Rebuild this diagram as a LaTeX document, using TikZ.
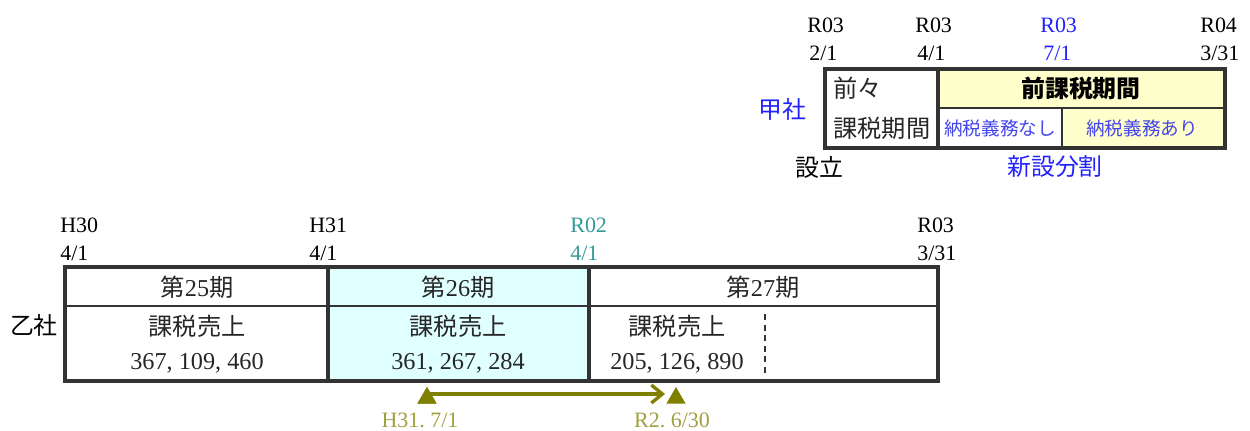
\documentclass[tikz,border=0pt]{standalone}
\usepackage{fontspec}
\setmainfont{Liberation Serif}
\newfontfamily\jp{Noto Sans CJK JP}
\newcommand{\J}[1]{{\jp #1}}
\usetikzlibrary{shapes.geometric,arrows.meta,calc}
\definecolor{frame}{HTML}{333333}
\definecolor{ylw}{HTML}{FFFFCC}
\definecolor{cyn}{HTML}{E0FFFF}
\definecolor{blu}{HTML}{2222FF}
\definecolor{blutxt}{HTML}{4444EE}
\definecolor{tealc}{HTML}{339999}
\definecolor{olv}{HTML}{808000}
\definecolor{olvtxt}{HTML}{A0A040}
\tikzset{
  lbl/.style={font=\fontsize{12.5}{14}\selectfont, inner sep=0pt, anchor=west, text=black},
  cell/.style={font=\fontsize{13.8}{16}\selectfont, inner sep=0pt, text=black!85},
  small/.style={font=\fontsize{10.6}{13}\selectfont\jp, inner sep=0pt, text=blutxt},
  heavy/.style={draw=frame, line width=2.2pt},
  mid/.style={draw=frame, line width=2pt},
  thinl/.style={draw=frame, line width=1.2pt},
  tri/.style={regular polygon, regular polygon sides=3, fill=olv, minimum size=0.44cm, inner sep=0pt},
  olab/.style={font=\fontsize{12.5}{14}\selectfont, inner sep=0pt, text=olvtxt},
  side/.style={font=\fontsize{13.6}{16}\selectfont\jp, inner sep=0pt}
}
\begin{document}
\begin{tikzpicture}[x=0.02cm, y=-0.02cm]
\useasboundingbox (0,0) rectangle (1250,430);

% ---------- top table (甲社) ----------
\fill[ylw] (938,69) rectangle (1225,108);
\fill[ylw] (1062,108) rectangle (1225,148);
\draw[thinl] (938,108) -- (1225,108);
\draw[thinl] (1062,108) -- (1062,148);
\draw[mid] (938,69) -- (938,148);
\draw[heavy] (825,69) rectangle (1225,148);

\node[cell, anchor=west] (zz1) at (833,88) {\J{前々}};
\node[cell, anchor=west] (zz2) at (833,128) {\J{課税期間}};
\node[cell, font=\fontsize{13.6}{16}\selectfont\jp\bfseries, text=black] (prev) at (1081,88) {前課税期間};
\node[small] (nashi) at (1000,128) {納税義務なし};
\node[small] (ari) at (1142,128) {納税義務あり};

\node[lbl] (t1a) at (807,25) {R03};
\node[lbl] (t1b) at (809,53) {2/1};
\node[lbl] (t2a) at (915,25) {R03};
\node[lbl] (t2b) at (917,53) {4/1};
\node[lbl, text=blu] (t3a) at (1040,25) {R03};
\node[lbl, text=blu] (t3b) at (1043,53) {7/1};
\node[lbl] (t4a) at (1200,25) {R04};
\node[lbl] (t4b) at (1200,53) {3/31};

\node[side, text=blu] (kou) at (782,109) {甲社};
\node[side] (setsu) at (819,167) {設立};
\node[side, text=blu] (bunkatsu) at (1055,167) {新設分割};

% ---------- bottom table (乙社) ----------
\fill[cyn] (328,267) rectangle (589,381);
\draw[thinl] (65,306) -- (938,306);
\draw[mid] (328,267) -- (328,381);
\draw[mid] (589,267) -- (589,381);
\draw[draw=frame, line width=1.1pt, dash pattern=on 3.5pt off 2.5pt] (765,314) -- (765,377);
\draw[heavy] (65,267) rectangle (938,381);

\node[cell] (p25) at (197,287) {\J{第}25\J{期}};
\node[cell] (p26) at (458,287) {\J{第}26\J{期}};
\node[cell] (p27) at (763,287) {\J{第}27\J{期}};
\node[cell] (k25) at (197,326) {\J{課税売上}};
\node[cell] (k26) at (458,326) {\J{課税売上}};
\node[cell] (k27) at (677,326) {\J{課税売上}};
\node[cell] (v25) at (197,363) {367,\hspace{0.25em}109,\hspace{0.25em}460};
\node[cell] (v26) at (458,363) {361,\hspace{0.25em}267,\hspace{0.25em}284};
\node[cell] (v27) at (677,363) {205,\hspace{0.25em}126,\hspace{0.25em}890};

\node[side] (otsu) at (34,325) {乙社};

\node[lbl] (b1a) at (60,225) {H30};
\node[lbl] (b1b) at (60,253) {4/1};
\node[lbl] (b2a) at (309,225) {H31};
\node[lbl] (b2b) at (309,253) {4/1};
\node[lbl, text=tealc] (b3a) at (570,225) {R02};
\node[lbl, text=tealc] (b3b) at (570,253) {4/1};
\node[lbl] (b4a) at (917,225) {R03};
\node[lbl] (b4b) at (917,253) {3/31};

% ---------- arrow ----------
\node[tri] (tr1) at (427,398) {};
\node[tri] (tr2) at (676,398) {};
\draw[olv, line width=1.9pt, -{Straight Barb[length=2.2mm, width=3.6mm, line width=1.9pt]}]
  ([yshift=0.08cm]tr1.center) -- ([xshift=-0.22cm, yshift=0.08cm]tr2.center);
\node[tri] at (tr1) {};
\node[olab] (d1) at (420,420) {H31.\hspace{0.25em}7/1};
\node[olab] (d2) at (672,420) {R2.\hspace{0.25em}6/30};
\end{tikzpicture}
\end{document}
